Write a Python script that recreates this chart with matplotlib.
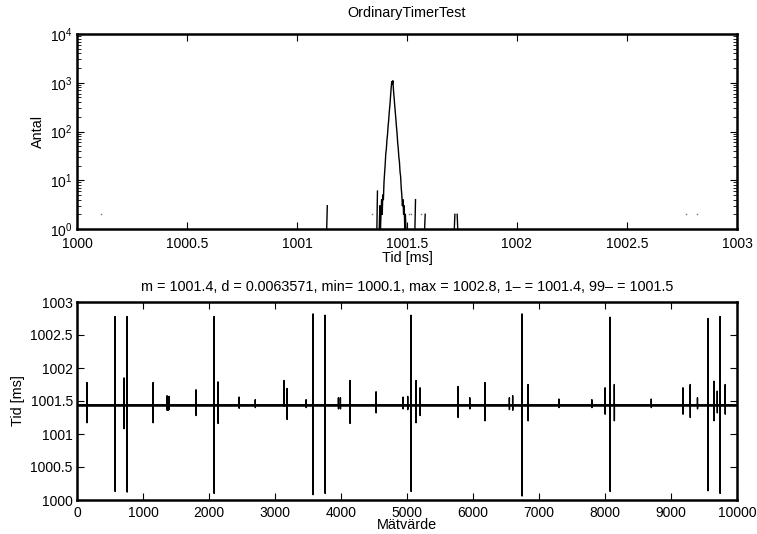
import numpy as np
import matplotlib
matplotlib.use('Agg')
import matplotlib.pyplot as plt
from matplotlib.ticker import LogLocator, NullFormatter

# ---------------- data ----------------
# Top panel: histogram of timer periods (counts per bin, log scale)
BIN_W = 0.0027
PEAK_X0 = 1001.3738
PEAK_COUNTS = [1, 3, 1, 2, 4, 2, 5, 4, 9, 14, 21, 35, 44, 68, 88, 132, 176, 262, 350, 520, 760,
               1050, 930, 1100,
               700, 500, 350, 250, 180, 125, 92, 60, 45, 30, 24, 15, 12, 7, 5, 3, 4, 2, 3, 1, 2, 1, 0, 1]
# isolated small bins: (start time [ms], counts)
SPARSE_X = [1000.110, 1001.135, 1001.341, 1001.363, 1001.510, 1001.517, 1001.536,
            1001.562, 1001.580, 1001.715, 1001.728, 1002.770, 1002.820]
SPARSE_COUNTS = [[2], [1, 3], [2], [1, 6], [2], [2], [1, 4],
                 [2], [1, 2], [1, 2], [2, 1], [2], [2]]

# Bottom panel: measured periods per sample
N_SAMPLES = 10000
BASELINE = 1001.44
BAND_LO = 1001.42
BAND_HI = 1001.46
SPIKE_IDX = [576, 758, 2076, 3576, 3758, 5061, 6742, 8076, 9561, 9742]
SPIKE_HI = [1002.78, 1002.78, 1002.78, 1002.82, 1002.80, 1002.80, 1002.82, 1002.77, 1002.75, 1002.78]
SPIKE_LO = [1000.13, 1000.12, 1000.10, 1000.08, 1000.10, 1000.13, 1000.06, 1000.13, 1000.14, 1000.10]
MID_IDX = [150, 712, 1152, 1803, 2136, 3136, 3182, 4136, 4530, 5136, 5197, 5773,
           6180, 6833, 8000, 8140, 9180, 9290, 9650, 9700, 9820]
MID_HI = [1001.78, 1001.85, 1001.78, 1001.67, 1001.79, 1001.81, 1001.69, 1001.81, 1001.64, 1001.81,
          1001.70, 1001.72, 1001.78, 1001.75, 1001.70, 1001.75, 1001.70, 1001.75, 1001.80, 1001.65, 1001.75]
MID_LO = [1001.17, 1001.08, 1001.17, 1001.28, 1001.16, 1001.42, 1001.22, 1001.16, 1001.32, 1001.17,
          1001.28, 1001.25, 1001.20, 1001.20, 1001.30, 1001.20, 1001.30, 1001.25, 1001.20, 1001.32, 1001.30]
SMALL_IDX = [1364, 1380, 1396, 2455, 2700, 3470, 3960, 3990, 4940, 5010, 5950,
             6550, 6600, 7300, 7800, 8700, 9400]
SMALL_HI = [1001.58, 1001.56, 1001.57, 1001.56, 1001.52, 1001.52, 1001.55, 1001.55, 1001.56, 1001.57,
            1001.55, 1001.55, 1001.58, 1001.53, 1001.52, 1001.53, 1001.55]
SMALL_LO = [1001.36, 1001.36, 1001.37, 1001.39, 1001.40, 1001.40, 1001.38, 1001.38, 1001.38, 1001.37,
            1001.38, 1001.37, 1001.36, 1001.40, 1001.40, 1001.40, 1001.38]

TITLE_TOP = 'OrdinaryTimerTest'
TITLE_BOTTOM = 'm = 1001.4, d = 0.0063571, min= 1000.1, max = 1002.8, 1\u2013 = 1001.4, 99\u2013 = 1001.5'
XTICKS_TOP = [1000, 1000.5, 1001, 1001.5, 1002, 1002.5, 1003]
XTICKLABELS_TOP = ['1000', '1000.5', '1001', '1001.5', '1002', '1002.5', '1003']
YTICKS_BOTTOM = [1000, 1000.5, 1001, 1001.5, 1002, 1002.5, 1003]
YTICKLABELS_BOTTOM = ['1000', '1000.5', '1001', '1001.5', '1002', '1002.5', '1003']
XTICKS_BOTTOM = list(range(0, 10001, 1000))

# ---------------- figure ----------------
plt.rcParams['font.family'] = ['Liberation Sans', 'DejaVu Sans']
plt.rcParams['font.size'] = 10
plt.rcParams['mathtext.fontset'] = 'custom'
plt.rcParams['mathtext.rm'] = 'Liberation Sans'

W, H = 757, 534
LBL = 10.4
fig = plt.figure(figsize=(W / 100, H / 100), dpi=100)
ax1 = fig.add_axes([77 / W, 1 - 229 / H, 660 / W, 195 / H])
ax2 = fig.add_axes([77 / W, 1 - 500 / H, 660 / W, 198 / H])

# --- top: histogram ---
pc = np.array(PEAK_COUNTS, dtype=float)
pc[pc <= 0] = np.nan
px = PEAK_X0 + np.arange(len(pc)) * BIN_W
ax1.plot(px, pc, color='k', lw=1.0)
for x0, cnts in zip(SPARSE_X, SPARSE_COUNTS):
    c = np.array(cnts, dtype=float)
    xs = x0 + np.arange(len(c)) * BIN_W
    if len(c) == 1:
        ax1.plot(xs, c, ls='none', marker='s', ms=1.0, color='0.45', mew=0)
    else:
        ax1.plot(xs, c, color='k', lw=1.0)
ax1.set_yscale('log')
ax1.set_xlim(1000, 1003)
ax1.set_ylim(1, 1e4)
ax1.set_xticks(XTICKS_TOP)
ax1.set_xticklabels(XTICKLABELS_TOP)
ax1.yaxis.set_major_locator(LogLocator(base=10, numticks=10))
ax1.yaxis.set_minor_locator(LogLocator(base=10, subs=np.arange(2, 10), numticks=20))
ax1.yaxis.set_minor_formatter(NullFormatter())
ax1.set_title(TITLE_TOP, fontsize=LBL, pad=12)
ax1.set_xlabel('Tid [ms]', fontsize=LBL, labelpad=0)
ax1.set_ylabel('Antal', fontsize=LBL, labelpad=4)

# --- bottom: time series ---
series = np.full(N_SAMPLES, BASELINE)
for idx, hi, lo in zip(SMALL_IDX + MID_IDX + SPIKE_IDX,
                       SMALL_HI + MID_HI + SPIKE_HI,
                       SMALL_LO + MID_LO + SPIKE_LO):
    series[idx] = hi
    series[idx + 1] = lo
sx = np.arange(1, N_SAMPLES + 1)
ax2.fill_between(sx, BAND_LO, BAND_HI, color='k', lw=0)
ax2.plot(sx, series, color='k', lw=1.0)
ax2.set_xlim(0, 10000)
ax2.set_ylim(1000, 1003)
ax2.set_xticks(XTICKS_BOTTOM)
ax2.set_yticks(YTICKS_BOTTOM)
ax2.set_yticklabels(YTICKLABELS_BOTTOM)
ax2.set_title(TITLE_BOTTOM, fontsize=LBL, pad=8)
ax2.set_xlabel('M\u00e4tv\u00e4rde', fontsize=LBL, labelpad=-1)
ax2.set_ylabel('Tid [ms]', fontsize=LBL, labelpad=4)

for ax in (ax1, ax2):
    for s in ax.spines.values():
        s.set_linewidth(1.8)
    ax.tick_params(which='major', direction='in', top=True, right=True, length=5, width=0.8, pad=4)
    ax.tick_params(which='minor', direction='in', top=True, right=True, length=3, width=0.6)
    ax.tick_params(axis='y', which='major', pad=3)
ax1.tick_params(axis='x', which='major', pad=6)

fig.savefig('out.png', dpi=100)
